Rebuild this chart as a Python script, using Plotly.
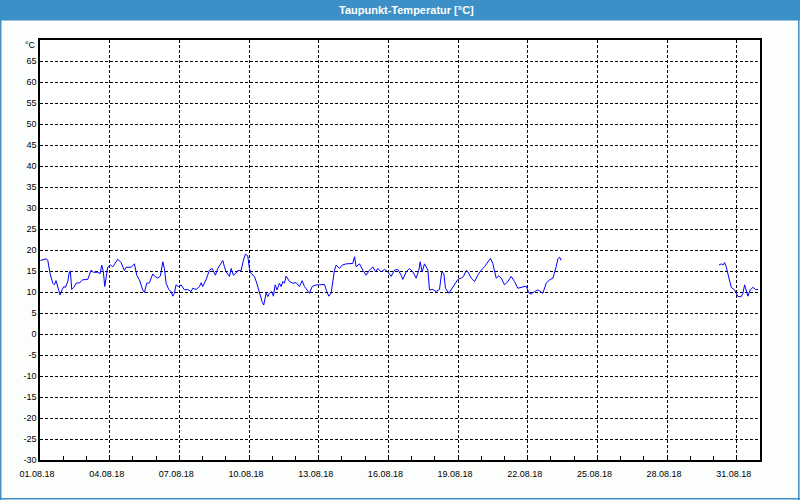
import pandas as pd
import plotly.graph_objects as go

# ---- data (hours since 01.08.2018 00:00, dew point in °C) ----
seg1_hours = [0.4, 6.3, 8.0, 10.4, 13.2, 14.9, 16.6, 18.3, 20.7, 22.8,
              24.5, 26.3, 28.7, 30.4, 31.4, 32.8, 34.9, 37.3, 40.7, 44.2,
              49.3, 52.8, 55.2, 59.7, 62.1, 63.8, 65.5, 66.9, 68.3, 70.0,
              72.8, 75.2, 80.3, 83.8, 87.2, 89.0, 94.1, 97.6, 100.0, 102.7,
              106.2, 107.9, 110.3, 113.1, 116.5, 118.2, 121.7, 124.4, 126.9, 128.6,
              130.3, 133.1, 135.5, 137.2, 138.9, 140.6, 143.1, 145.8, 149.3, 152.7,
              156.1, 157.9, 161.3, 164.8, 166.5, 168.2, 171.6, 175.1, 177.9, 181.3,
              183.7, 187.2, 188.9, 190.6, 192.3,
              195.8, 197.5, 199.9, 202.0, 204.4, 207.8, 210.2, 212.3, 214.7, 216.4,
              218.2, 221.6, 224.0, 226.8, 229.5, 231.2, 233.7, 235.4, 237.1, 239.5,
              241.2, 243.0, 245.0, 247.4, 249.2, 250.9, 252.6, 254.3, 257.8, 261.2,
              264.7, 268.1, 270.9, 273.3, 276.7, 278.5, 281.2, 285.3, 288.8, 294.0,
              295.7, 298.4, 300.8, 302.6, 304.3, 306.0, 309.5, 312.2, 316.4, 323.2,
              325.0, 326.7, 330.1, 333.6, 337.0, 340.5, 343.9, 346.7, 349.1, 352.5,
              356.0, 359.4, 362.9, 366.3, 369.7, 373.2, 374.9, 378.4, 381.8,
              385.3, 388.7, 391.5, 392.8, 394.9, 397.3, 400.8, 402.5, 405.9, 409.4,
              412.8, 415.2, 417.3, 419.0, 422.5, 424.9, 428.3, 431.8, 435.2, 437.6,
              440.4, 442.1, 445.6, 449.0, 452.4, 455.9, 459.3, 462.8, 465.5, 467.9,
              471.4, 474.1, 476.6, 480.0, 483.4, 486.9, 490.3, 493.8, 498.9, 502.4,
              505.1, 507.6, 511.0, 514.5, 519.6, 523.1, 526.5, 530.0, 533.4, 535.1,
              536.9, 538.6]
seg1_values = [17.5, 17.9, 17.6, 14.4, 12.1, 11.7, 12.7, 11.3, 9.3, 10.5,
               11.3, 11.1, 12.5, 14.8, 15.0, 10.6, 11.1, 12.1, 12.2, 12.9,
               13.0, 15.2, 14.7, 14.7, 14.4, 16.4, 14.8, 11.3, 14.0, 15.9,
               16.4, 16.0, 17.8, 17.0, 15.1, 15.9, 15.9, 16.7, 14.0, 12.9,
               10.5, 9.9, 12.1, 12.2, 14.3, 13.8, 13.3, 13.8, 17.2, 15.6,
               12.1, 10.6, 10.1, 9.0, 9.7, 11.7, 11.3, 11.7, 10.5, 10.6,
               10.1, 10.9, 10.6, 11.3, 12.2, 11.3, 12.9, 15.2, 15.6, 14.0,
               15.6, 16.8, 17.5, 16.0, 14.8,
               13.7, 15.6, 14.0, 14.4, 15.1, 15.1, 17.6, 19.0, 18.6, 15.6,
               14.4, 13.7, 12.1, 9.7, 7.7, 6.9, 9.8, 8.9, 9.7, 10.1,
               9.0, 11.7, 10.5, 12.1, 11.3, 12.5, 12.1, 13.8, 12.5, 12.1,
               12.2, 11.3, 12.7, 11.3, 10.1, 9.7, 11.3, 11.7, 11.7, 11.8,
               10.5, 9.0, 9.7, 12.9, 15.2, 16.4, 15.6, 16.4, 16.7, 16.8,
               18.4, 16.0, 16.7, 15.2, 14.0, 15.2, 16.0, 14.8, 15.6, 14.8,
               15.4, 14.8, 13.7, 15.2, 15.4, 14.0, 13.0, 14.8, 15.6,
               14.8, 13.3, 15.2, 17.2, 14.8, 16.7, 15.2, 10.5, 10.6, 10.1,
               10.6, 14.8, 14.4, 10.9, 9.7, 10.5, 11.9, 13.0, 13.3, 13.7,
               15.1, 14.8, 13.3, 12.5, 14.0, 15.2, 16.0, 17.2, 18.0, 16.8,
               13.3, 13.8, 13.3, 11.7, 12.5, 13.7, 12.5, 10.9, 11.3, 11.4,
               9.8, 9.5, 10.1, 10.5, 9.7, 12.1, 12.9, 13.3, 16.0, 17.9,
               18.3, 17.5]
seg2_hours = [701.5, 704.0, 705.7, 707.4, 709.1, 711.9, 714.3, 717.7, 721.2, 724.6,
              726.3, 728.1, 729.8, 731.5, 733.9, 736.7, 739.4, 741.9]
seg2_values = [16.4, 16.7, 16.4, 17.0, 16.0, 13.7, 11.1, 10.5, 8.9, 8.9,
               9.7, 11.7, 10.1, 9.0, 10.5, 11.1, 10.6, 10.6]

y_tick_vals = list(range(-30, 75, 5))
y_tick_text = [str(v) for v in range(-30, 70, 5)] + [""]
y_unit = "°C"
x_start = "2018-08-01"
x_end = "2018-09-01"
title_text = "Taupunkt-Temperatur [°C]"

# ---- build ----
start = pd.Timestamp(x_start)
times = [start + pd.Timedelta(hours=h) for h in seg1_hours] + [None] + \
        [start + pd.Timedelta(hours=h) for h in seg2_hours]
vals = seg1_values + [None] + seg2_values

BLUE = "#3C8FC7"
FONT = "Liberation Sans, Arial, sans-serif"

fig = go.Figure()
fig.add_trace(go.Scatter(x=times, y=vals, mode="lines",
                         line=dict(color="#0000FF", width=1),
                         connectgaps=False, showlegend=False,
                         hoverinfo="skip"))

W, H = 800, 500
ml, mr, mt, mb = 40, 40, 40, 40
pw, ph = W - ml - mr, H - mt - mb

def px(xp):
    return (xp - ml) / pw

def py(yp):
    return 1 - (yp - mt) / ph

shapes = [
    # title bar
    dict(type="rect", xref="paper", yref="paper", x0=px(0), x1=px(W), y0=py(20.5), y1=py(0),
         fillcolor=BLUE, line=dict(width=0), layer="below"),
    # outer frame
    dict(type="line", xref="paper", yref="paper", x0=px(0.7), x1=px(0.7), y0=py(0), y1=py(H),
         line=dict(color=BLUE, width=1.5)),
    dict(type="line", xref="paper", yref="paper", x0=px(W - 1.2), x1=px(W - 1.2), y0=py(0), y1=py(H),
         line=dict(color=BLUE, width=1.5)),
    dict(type="line", xref="paper", yref="paper", x0=px(0), x1=px(W), y0=py(H - 1.2), y1=py(H - 1.2),
         line=dict(color=BLUE, width=1.5)),
]

fig.update_layout(
    width=W, height=H, autosize=False,
    margin=dict(l=ml, r=mr, t=mt, b=mb),
    paper_bgcolor="#FCFEFC", plot_bgcolor="#FFFFFF",
    shapes=shapes,
    annotations=[
        dict(text="<b>" + title_text + "</b>", xref="paper", yref="paper",
             x=px(406), y=py(10), xanchor="center", yanchor="middle",
             showarrow=False, font=dict(family=FONT, size=11, color="#FFFFFF")),
        dict(text=y_unit, xref="paper", yref="paper",
             x=px(37.5), y=py(45), xanchor="right", yanchor="middle",
             showarrow=False, font=dict(family=FONT, size=9, color="#000000")),
    ],
    xaxis=dict(
        type="date", range=[x_start, x_end],
        tick0=x_start, dtick=3 * 86400000, tickformat="%d.%m.%y",
        showgrid=True, gridcolor="#000000", gridwidth=1, griddash="3px,2px",
        ticks="inside", ticklen=4, tickcolor="#000000",
        minor=dict(dtick=86400000, tick0=x_start, ticks="inside", ticklen=4,
                   tickcolor="#000000", showgrid=False),
        showline=True, linecolor="#000000", linewidth=1.5, mirror=True,
        zeroline=False, tickfont=dict(family=FONT, size=9, color="#000000"),
        ticklabelstandoff=4, ticklabelshift=-3,
    ),
    yaxis=dict(
        range=[-30, 70], tickmode="array", tickvals=y_tick_vals, ticktext=y_tick_text,
        showgrid=True, gridcolor="#000000", gridwidth=1, griddash="3px,2px",
        ticks="", showline=True, linecolor="#000000", linewidth=1.5, mirror=True,
        zeroline=False, tickfont=dict(family=FONT, size=9, color="#000000"),
    ),
)

fig.write_html("out.html", config={"displayModeBar": False},
               post_script="document.body.style.margin='0';document.body.style.overflow='hidden';")
